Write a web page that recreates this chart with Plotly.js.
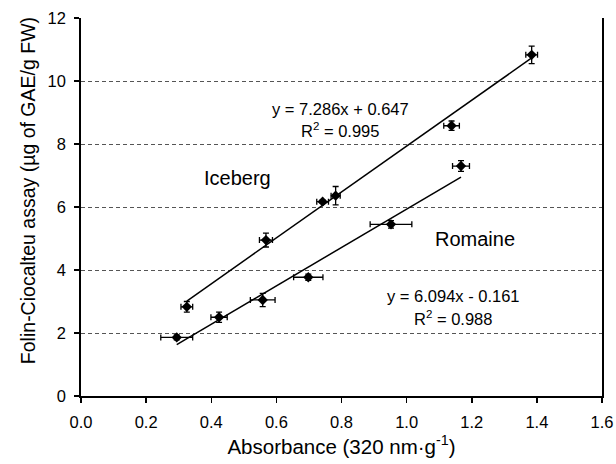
<!DOCTYPE html>
<html>
<head>
<meta charset="utf-8">
<script src="https://cdn.plot.ly/plotly-3.0.1.min.js"></script>
<style>html,body{margin:0;padding:0;background:#fff;}#chart{width:616px;height:464px;}</style>
</head>
<body>
<div id="chart"></div>
<script>
// Iceberg data
const icebergX = [0.325, 0.568, 0.742, 0.782, 1.138, 1.384];
const icebergY = [2.83, 4.95, 6.17, 6.36, 8.58, 10.83];
const icebergXErr = [0.018, 0.020, 0.018, 0.014, 0.024, 0.018];
const icebergYErr = [0.17, 0.22, 0.05, 0.29, 0.15, 0.28];
// Romaine data
const romaineX = [0.294, 0.424, 0.558, 0.698, 0.952, 1.167];
const romaineY = [1.86, 2.50, 3.05, 3.77, 5.45, 7.30];
const romaineXErr = [0.049, 0.025, 0.038, 0.045, 0.064, 0.026];
const romaineYErr = [0.08, 0.16, 0.21, 0.10, 0.12, 0.17];
// Regression fits (slope, intercept) as given on chart
const icebergFit = [7.286, 0.647];
const romaineFit = [6.094, -0.161];
const xTicks = [0, 0.2, 0.4, 0.6, 0.8, 1.0, 1.2, 1.4, 1.6];
const xTickText = ['0.0','0.2','0.4','0.6','0.8','1.0','1.2','1.4','1.6'];
const yTicks = [0, 2, 4, 6, 8, 10, 12];

const FONT = 'Liberation Sans, Arial, sans-serif';

function fitLine(xs, fit) {
  const x0 = Math.min(...xs), x1 = Math.max(...xs);
  return {x: [x0, x1], y: [fit[0]*x0 + fit[1], fit[0]*x1 + fit[1]]};
}
const iceLine = fitLine(icebergX, icebergFit);
const romLine = fitLine(romaineX, romaineFit);

function pts(x, y, ex, ey, name) {
  return {
    x: x, y: y, name: name, type: 'scatter', mode: 'markers',
    marker: {symbol: 'diamond', size: 8, color: '#000'},
    error_x: {type: 'data', array: ex, visible: true, color: '#000', thickness: 1.3, width: 3},
    error_y: {type: 'data', array: ey, visible: true, color: '#000', thickness: 1.3, width: 3},
    showlegend: false, cliponaxis: false
  };
}

const data = [
  {x: iceLine.x, y: iceLine.y, mode: 'lines', line: {color: '#000', width: 1.5}, showlegend: false},
  {x: romLine.x, y: romLine.y, mode: 'lines', line: {color: '#000', width: 1.5}, showlegend: false},
  pts(icebergX, icebergY, icebergXErr, icebergYErr, 'Iceberg'),
  pts(romaineX, romaineY, romaineXErr, romaineYErr, 'Romaine')
];

const layout = {
  width: 616, height: 464,
  margin: {l: 81, r: 14, t: 18, b: 68},
  paper_bgcolor: '#fff', plot_bgcolor: '#fff',
  font: {family: FONT, size: 14, color: '#000'},
  xaxis: {
    range: [0, 1.6], tickvals: xTicks, ticktext: xTickText,
    showline: true, linecolor: '#000', linewidth: 1.8,
    ticks: 'outside', ticklen: 5, tickcolor: '#000', tickwidth: 1.5,
    showgrid: false, zeroline: false, ticklabelstandoff: 5,
    tickfont: {family: FONT, size: 16.5},
    title: {text: 'Absorbance (320 nm·g<sup>-1</sup>)', font: {family: FONT, size: 20.5}, standoff: 10}
  },
  yaxis: {
    range: [0, 12], tickvals: yTicks,
    showline: true, linecolor: '#000', linewidth: 1.8, mirror: true,
    ticks: 'outside', ticklen: 5, tickcolor: '#000', tickwidth: 1.5,
    showgrid: true, gridcolor: '#555', griddash: '4px,3px', gridwidth: 1,
    zeroline: false, ticklabelstandoff: 5,
    tickfont: {family: FONT, size: 16.5}
  },
  annotations: [
    {x: -0.1017, y: 0.542, xref: 'paper', yref: 'paper', text: 'Folin-Ciocalteu assay (µg of GAE/g FW)',
     textangle: -90, showarrow: false, xanchor: 'center', yanchor: 'middle', font: {size: 19.5}},
    {x: 0.796, y: 9.11, xref: 'x', yref: 'y', text: 'y = 7.286x + 0.647', showarrow: false, font: {size: 16.5}},
    {x: 0.796, y: 8.44, xref: 'x', yref: 'y', text: 'R<sup>2</sup> = 0.995', showarrow: false, font: {size: 16.5}},
    {x: 0.482, y: 6.92, xref: 'x', yref: 'y', text: 'Iceberg', showarrow: false, font: {size: 20}},
    {x: 1.21, y: 4.98, xref: 'x', yref: 'y', text: 'Romaine', showarrow: false, font: {size: 20}},
    {x: 1.143, y: 3.17, xref: 'x', yref: 'y', text: 'y = 6.094x - 0.161', showarrow: false, font: {size: 16.5}},
    {x: 1.143, y: 2.48, xref: 'x', yref: 'y', text: 'R<sup>2</sup> = 0.988', showarrow: false, font: {size: 16.5}}
  ]
};

Plotly.newPlot('chart', data, layout, {displayModeBar: false, staticPlot: true});
</script>
</body>
</html>
